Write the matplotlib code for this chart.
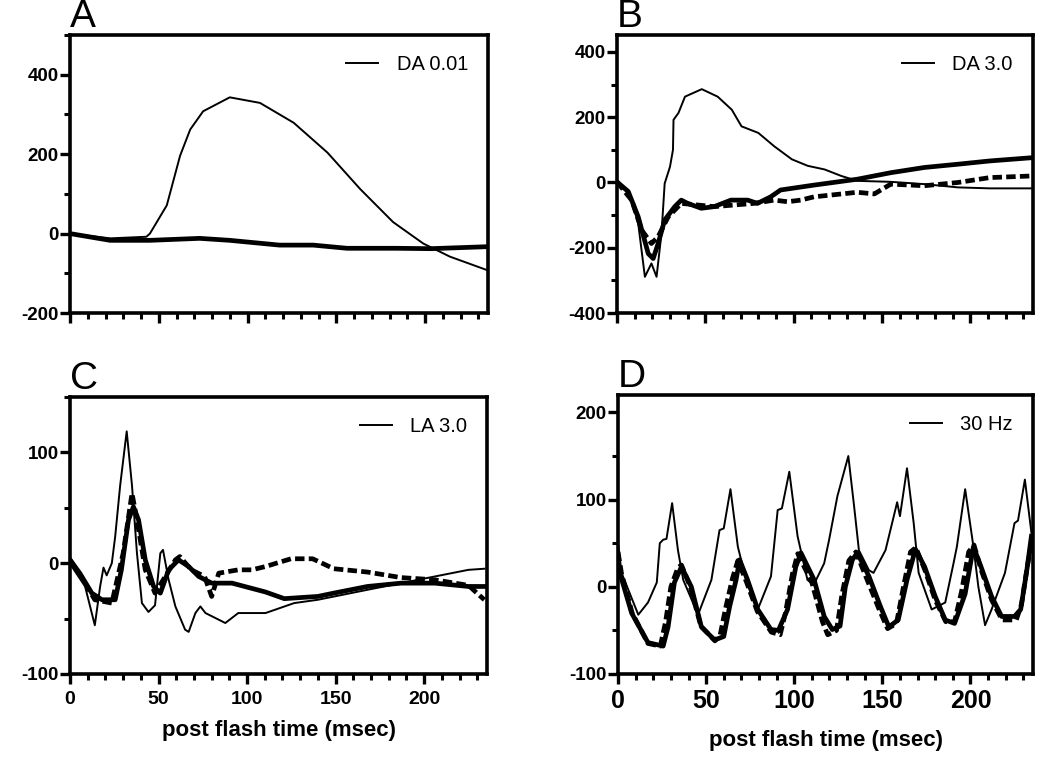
import matplotlib
matplotlib.use('Agg')
import matplotlib.pyplot as plt
from matplotlib.ticker import MultipleLocator

plt.rcParams['font.family'] = ['Liberation Sans', 'DejaVu Sans']
plt.rcParams['axes.unicode_minus'] = False

# Panel A  (DA 0.01)
a_thin_t = [0, 22.6, 43, 45, 54.5, 62, 67.7, 75, 90, 107, 126, 145, 163.5, 182, 199, 214, 235]
a_thin_v = [0, -12, -8, 0, 71, 196, 262, 308, 343, 329, 279, 204, 112, 29, -25, -58, -92]
a_thick_t = [0, 22.6, 45, 73, 90, 118, 137, 156, 184, 203, 235]
a_thick_v = [0, -17, -17, -12, -17, -29, -29, -37, -37, -38, -33]

# Panel B  (DA 3.0)
b_thin_t = [0, 6.4, 12, 15.8, 19.5, 22.4, 25.2, 27, 30, 31.7, 32, 34.8, 38.5, 48, 57, 65,
            70.5, 80, 89, 99, 108, 117.5, 127, 136, 155, 174, 193, 211, 235]
b_thin_v = [2, -23, -125, -289, -248, -289, -156, -3, 48, 100, 192, 213, 263, 286, 263, 223,
            172, 152, 111, 71, 51, 40, 20, 5, 2, -5, -15, -18, -18]
b_thick_t = [0, 6.4, 12, 17.7, 20.5, 23.3, 27, 32.7, 36.4, 40, 47.7, 55, 64.5, 74, 79.5, 87,
             92.6, 111.5, 136, 155, 174, 193, 211, 235]
b_thick_v = [2, -28, -105, -218, -233, -187, -115, -74, -54, -64, -79, -74, -54, -54, -64, -44,
             -23, -8, 10, 30, 46, 56, 66, 76]
b_dash_t = [0, 8.3, 14, 19.5, 23.3, 29, 36.4, 55, 77.6, 89, 96.6, 104, 111.5, 136, 145.7,
            155, 174, 193, 211, 235]
b_dash_v = [2, -54, -146, -187, -166, -105, -64, -74, -64, -54, -59, -54, -44, -30, -35,
            -5, -10, 0, 15, 20]

# Panel C  (LA 3.0)
c_thin_t = [0, 1, 8.5, 14, 17, 18.9, 20.7, 23.6, 25.5, 28.3, 32, 35, 37.8, 40.6, 44.3, 48,
            51, 52.5, 55.7, 59.5, 65, 67, 70.8, 73.6, 76.5, 84, 87.7, 95, 110.4, 126.6, 140,
            168, 187, 206, 225, 234]
c_thin_v = [0, -3, -21, -56, -21, -4, -11, 0, 24, 70, 119, 70, 9, -36, -44, -38,
            9, 12, -15, -39, -60, -62, -45, -39, -45, -51, -54, -45, -45, -36, -33,
            -24, -18, -12, -6, -5]
c_thick_t = [0, 5.5, 12.3, 18, 25.5, 29, 33, 35.8, 38.7, 42.5, 47.2, 51, 55.7, 61.3, 67,
             72.7, 80, 91.5, 110.4, 121, 140, 149, 168, 187, 206, 225, 234]
c_thick_v = [3, -9, -27, -33, -33, -6, 39, 51, 39, 3, -21, -27, -6, 3, -3,
             -12, -18, -18, -26, -32, -30, -27, -21, -18, -18, -21, -21]
c_dash_t = [0, 7.4, 14, 23.6, 30, 35, 37.8, 42.5, 48, 53.8, 59.5, 62, 68.5, 76, 80, 84,
            95, 102.7, 110.4, 124.8, 137, 149, 168, 187, 206, 225, 234]
c_dash_v = [3, -15, -33, -36, 9, 63, 39, -6, -27, -12, 3, 6, -6, -12, -30, -9,
            -6, -6, -3, 4, 4, -5, -8, -13, -15, -20, -33]

# Panel D  (30 Hz flicker)
d_thin_t = [0, 2, 11.5, 17, 22, 23.7, 25.6, 27.5, 30.7, 34, 37, 45.4, 53, 57.6, 60, 63.8,
            68, 72.7, 79.3, 86.8, 90.6, 93, 97.2, 101.9, 107.5, 111, 117, 119.8, 124.5,
            130.7, 134, 136.7, 142.4, 145, 151.8, 156.5, 158.4, 160, 164, 167.8, 170.6,
            178, 185.7, 190.4, 192.3, 197, 201.7, 204.5, 208.3, 212, 219.6, 225, 227,
            230.9, 234.6]
d_thin_v = [50, 16, -32, -18, 5, 50, 54, 55, 96, 42, 8, -32, 8, 65, 67, 112,
            46, 8, -26, 12, 88, 90, 132, 58, 8, 2, 27, 54, 104,
            150, 92, 42, 19, 16, 42, 81, 97, 81, 136, 73, 16,
            -26, -18, 27, 46, 112, 46, 0, -44, -26, 16, 73, 76,
            123, 62]
d_thick_t = [0, 1, 7.7, 17, 25.6, 28.4, 32, 36, 41.6, 47.3, 54.8, 60, 63.3, 67, 69, 73.5,
             79.3, 86.8, 91, 96.2, 100.9, 103.8, 111.3, 117, 121.6, 126, 129, 133, 135.8,
             142.4, 149, 153.7, 159, 164, 168.8, 174, 180, 185.7, 191, 197, 201.7, 206,
             212, 217.7, 225, 228.5, 231.8, 234.6]
d_thick_v = [25, 16, -30, -64, -68, -46, 5, 23, 0, -46, -61, -57, -23, 8, 31, 8,
             -26, -49, -50, -26, 23, 39, 8, -34, -49, -45, 0, 31, 39,
             12, -23, -46, -38, 8, 43, 23, -11, -38, -42, -8, 46, 23,
             -11, -34, -34, -26, 16, 58]
d_dash_t = [0, 2, 8, 17, 24, 27, 30, 34, 36, 41, 47, 55, 58, 61, 65, 68, 73, 79, 87, 92,
            95, 99, 102, 110, 116, 119, 124, 127, 131, 135, 141, 148, 153, 158, 162, 166,
            169, 174, 180, 186, 191, 195, 199, 202, 206, 212, 218, 226, 229, 232, 235]
d_dash_v = [40, 15, -30, -65, -68, -40, 0, 22, 25, 0, -45, -62, -55, -25, 10, 30, 5, -28,
            -52, -55, -30, 15, 38, 5, -40, -55, -50, -10, 30, 40, 10, -25, -48, -42, 0, 40,
            45, 20, -15, -40, -40, -5, 40, 48, 20, -15, -38, -38, -20, 20, 55]

panels = [
    ('A', 'DA 0.01', (-200, 500), 200, 100, [(a_thin_t, a_thin_v, 'thin'), (a_thick_t, a_thick_v, 'thick')]),
    ('B', 'DA 3.0', (-400, 452), 200, 100, [(b_thin_t, b_thin_v, 'thin'), (b_thick_t, b_thick_v, 'thick'),
                                             (b_dash_t, b_dash_v, 'dash')]),
    ('C', 'LA 3.0', (-100, 150), 100, 50, [(c_thin_t, c_thin_v, 'thin'), (c_thick_t, c_thick_v, 'thick'),
                                            (c_dash_t, c_dash_v, 'dash')]),
    ('D', '30 Hz', (-100, 220), 100, 50, [(d_thin_t, d_thin_v, 'thin'), (d_thick_t, d_thick_v, 'thick'),
                                           (d_dash_t, d_dash_v, 'dash')]),
]

# axes rectangles in figure fractions [left, bottom, width, height]
rects = [
    [0.0667, 0.5892, 0.3981, 0.3649],
    [0.5876, 0.5892, 0.3962, 0.3649],
    [0.0667, 0.1155, 0.3971, 0.3635],
    [0.5886, 0.1155, 0.3952, 0.3661],
]

fig = plt.figure(figsize=(10.5, 7.62), dpi=100)

for i, (letter, label, ylim, ymaj, ymin, traces) in enumerate(panels):
    ax = fig.add_axes(rects[i])
    for t, v, kind in traces:
        if kind == 'thin':
            ax.plot(t, v, color='black', lw=1.4, label=label, zorder=3)
        elif kind == 'thick':
            ax.plot(t, v, color='black', lw=3.4, zorder=2)
        else:
            ax.plot(t, v, color='black', lw=3.4, ls=(0, (2.0, 0.9)), zorder=2)

    ax.set_xlim(0, 235.5)
    ax.set_ylim(*ylim)
    ax.xaxis.set_major_locator(MultipleLocator(50))
    ax.xaxis.set_minor_locator(MultipleLocator(10))
    ax.yaxis.set_major_locator(MultipleLocator(ymaj))
    ax.yaxis.set_minor_locator(MultipleLocator(ymin))

    for sp in ax.spines.values():
        sp.set_linewidth(2.6)
    ax.tick_params(which='major', direction='out', length=7, width=2.4)
    ax.tick_params(which='minor', direction='out', length=4, width=2.2)
    ax.tick_params(axis='y', labelsize=13.5, pad=1)
    for lab in ax.get_yticklabels():
        lab.set_fontweight('bold')

    if i < 2:
        ax.set_xticklabels([])
    else:
        xs = 14 if i == 2 else 18
        ax.tick_params(axis='x', labelsize=xs, pad=5 if i == 2 else 4)
        for lab in ax.get_xticklabels():
            lab.set_fontweight('bold')
        ax.set_xlabel('post flash time (msec)', fontsize=16,
                      fontweight='bold', labelpad=9 if i == 2 else 12)

    ax.legend(loc='upper right', frameon=False, fontsize=14.5, handlelength=1.6,
              handletextpad=0.9, borderaxespad=0.6)
    ax.text(0.0, 1.0, letter, transform=ax.transAxes, fontsize=28,
            ha='left', va='bottom')

plt.savefig('out.png', dpi=100)
